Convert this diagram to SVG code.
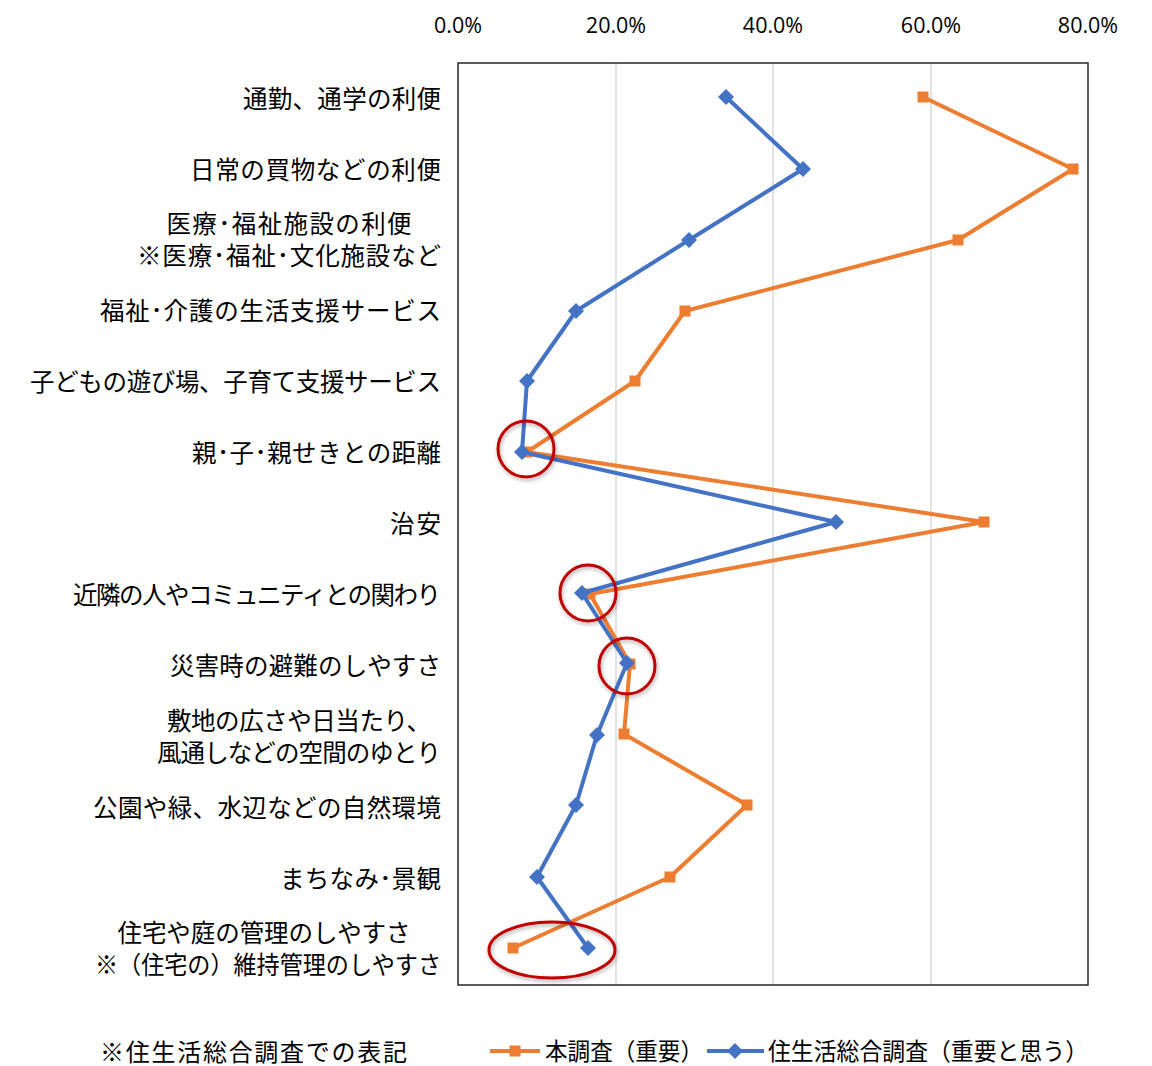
<svg xmlns="http://www.w3.org/2000/svg" xmlns:xlink="http://www.w3.org/1999/xlink" width="1152" height="1066" viewBox="0 0 1152 1066">
<style>
.lbl{font-family:"Noto Sans CJK JP","Noto Sans CJK SC",sans-serif;font-size:24.5px;fill:#000}
.ax{font-family:"Open Sans","Liberation Sans",sans-serif;font-size:21.5px;fill:#000;text-anchor:middle}
.lg{font-family:"Noto Sans CJK JP","Noto Sans CJK SC",sans-serif;font-size:24px;fill:#000}
.grid{stroke:#D9D9D9;stroke-width:1.5}
.so{fill:none;stroke:#ED7D31;stroke-width:4;stroke-linejoin:round}
.sb{fill:none;stroke:#4472C4;stroke-width:4;stroke-linejoin:round}
.ring{fill:none;stroke:#C00000;stroke-width:3}
</style>
<defs>
<rect id="sq" x="-5.5" y="-5.5" width="11" height="11" fill="#ED7D31"/>
<path id="dm" d="M0,-8 L8,0 L0,8 L-8,0 Z" fill="#4472C4"/>
<filter id="sh" x="-30%" y="-30%" width="160%" height="160%">
<feGaussianBlur in="SourceAlpha" stdDeviation="2"/>
<feOffset dx="1" dy="2" result="b"/>
<feComponentTransfer><feFuncA type="linear" slope="0.35"/></feComponentTransfer>
<feMerge><feMergeNode/><feMergeNode in="SourceGraphic"/></feMerge>
</filter>
</defs>
<rect width="1152" height="1066" fill="#fff"/>

<g id="axis-labels">
<text class="ax" x="458" y="33">0.0%</text>
<text class="ax" x="616" y="33">20.0%</text>
<text class="ax" x="773" y="33">40.0%</text>
<text class="ax" x="931" y="33">60.0%</text>
<text class="ax" x="1088" y="33">80.0%</text>
</g>

<g id="grid">
<line class="grid" x1="616" y1="63" x2="616" y2="985"/>
<line class="grid" x1="773" y1="63" x2="773" y2="985"/>
<line class="grid" x1="931" y1="63" x2="931" y2="985"/>
</g>
<rect id="plot-area" x="458" y="63" width="630" height="922" fill="none" stroke="#262626" stroke-width="1.5"/>

<g id="category-labels">
<text class="lbl" x="441" y="108" text-anchor="end" textLength="198" lengthAdjust="spacing">通勤、通学の利便</text>
<text class="lbl" x="441" y="179" text-anchor="end" textLength="251" lengthAdjust="spacing">日常の買物などの利便</text>
<text class="lbl" x="289" y="233" text-anchor="middle" textLength="245" lengthAdjust="spacing">医療･福祉施設の利便</text>
<text class="lbl" x="289" y="265" text-anchor="middle" textLength="304" lengthAdjust="spacing">※医療･福祉･文化施設など</text>
<text class="lbl" x="441" y="320" text-anchor="end" textLength="341" lengthAdjust="spacing">福祉･介護の生活支援サービス</text>
<text class="lbl" x="441" y="391" text-anchor="end" textLength="411" lengthAdjust="spacing">子どもの遊び場、子育て支援サービス</text>
<text class="lbl" x="441" y="462" text-anchor="end" textLength="249" lengthAdjust="spacing">親･子･親せきとの距離</text>
<text class="lbl" x="441" y="533" text-anchor="end" textLength="51" lengthAdjust="spacing">治安</text>
<text class="lbl" x="441" y="604" text-anchor="end" textLength="368" lengthAdjust="spacing">近隣の人やコミュニティとの関わり</text>
<text class="lbl" x="441" y="675" text-anchor="end" textLength="271" lengthAdjust="spacing">災害時の避難のしやすさ</text>
<text class="lbl" x="299" y="730" text-anchor="middle" textLength="264" lengthAdjust="spacing">敷地の広さや日当たり、</text>
<text class="lbl" x="299" y="762" text-anchor="middle" textLength="284" lengthAdjust="spacing">風通しなどの空間のゆとり</text>
<text class="lbl" x="441" y="817" text-anchor="end" textLength="348" lengthAdjust="spacing">公園や緑、水辺などの自然環境</text>
<text class="lbl" x="441" y="888" text-anchor="end" textLength="161" lengthAdjust="spacing">まちなみ･景観</text>
<text class="lbl" x="264" y="942" text-anchor="middle" textLength="293" lengthAdjust="spacing">住宅や庭の管理のしやすさ</text>
<text class="lbl" x="268" y="974" text-anchor="middle" textLength="346" lengthAdjust="spacingAndGlyphs">※（住宅の）維持管理のしやすさ</text>
</g>

<g id="connectors">
<polyline id="series-honchousa" class="so" points="923,97 1073,169 958,240 685,311 635,381 527,452 984,522 590,594 630,664 624,734 747,805 670,877 513,948"/>
<g id="markers-honchousa">
<use xlink:href="#sq" x="923" y="97"/><use xlink:href="#sq" x="1073" y="169"/><use xlink:href="#sq" x="958" y="240"/>
<use xlink:href="#sq" x="685" y="311"/><use xlink:href="#sq" x="635" y="381"/><use xlink:href="#sq" x="527" y="452"/>
<use xlink:href="#sq" x="984" y="522"/><use xlink:href="#sq" x="590" y="594"/><use xlink:href="#sq" x="630" y="664"/>
<use xlink:href="#sq" x="624" y="734"/><use xlink:href="#sq" x="747" y="805"/><use xlink:href="#sq" x="670" y="877"/>
<use xlink:href="#sq" x="513" y="948"/>
</g>
<polyline id="series-jyuseikatsu" class="sb" points="726,97 803,169 689,240 576,311 527,381 522,452 836,522 582,593 627,663 597,735 576,805 537,877 588,948"/>
<g id="markers-jyuseikatsu">
<use xlink:href="#dm" x="726" y="97"/><use xlink:href="#dm" x="803" y="169"/><use xlink:href="#dm" x="689" y="240"/>
<use xlink:href="#dm" x="576" y="311"/><use xlink:href="#dm" x="527" y="381"/><use xlink:href="#dm" x="522" y="452"/>
<use xlink:href="#dm" x="836" y="522"/><use xlink:href="#dm" x="582" y="593"/><use xlink:href="#dm" x="627" y="663"/>
<use xlink:href="#dm" x="597" y="735"/><use xlink:href="#dm" x="576" y="805"/><use xlink:href="#dm" x="537" y="877"/>
<use xlink:href="#dm" x="588" y="948"/>
</g>
</g>

<g id="highlights" filter="url(#sh)">
<circle class="ring" cx="526" cy="449" r="28"/>
<circle class="ring" cx="588" cy="593" r="28"/>
<circle class="ring" cx="627" cy="666" r="28"/>
<ellipse class="ring" cx="552" cy="950" rx="63" ry="28"/>
</g>

<g id="legend">
<text class="lg" x="100" y="1061" textLength="307" lengthAdjust="spacing">※住生活総合調査での表記</text>
<line x1="490" y1="1051" x2="540" y2="1051" stroke="#ED7D31" stroke-width="4"/>
<use xlink:href="#sq" x="515" y="1051"/>
<text class="lg" x="545" y="1060" textLength="158" lengthAdjust="spacingAndGlyphs">本調査（重要）</text>
<line x1="707" y1="1051" x2="764" y2="1051" stroke="#4472C4" stroke-width="4"/>
<use xlink:href="#dm" x="735" y="1051"/>
<text class="lg" x="768" y="1060" textLength="320" lengthAdjust="spacingAndGlyphs">住生活総合調査（重要と思う）</text>
</g>
</svg>
